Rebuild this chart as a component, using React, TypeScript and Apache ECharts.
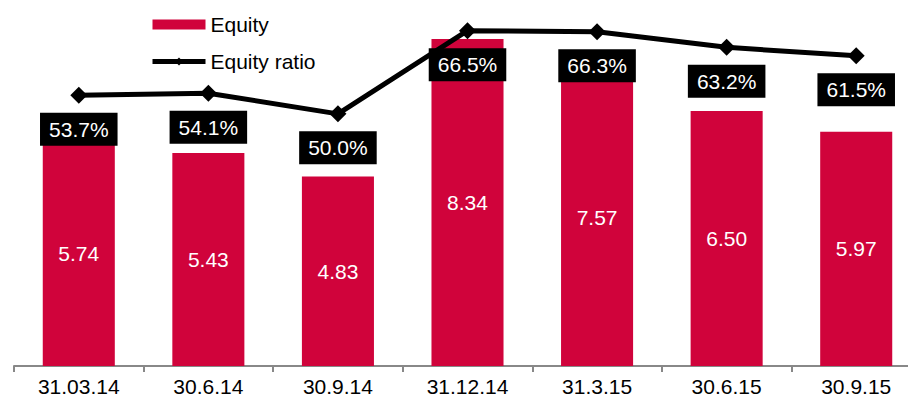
import React, { useEffect, useRef } from "react";
import * as echarts from "echarts";

const categories = ["31.03.14", "30.6.14", "30.9.14", "31.12.14", "31.3.15", "30.6.15", "30.9.15"];
const equity = [5.74, 5.43, 4.83, 8.34, 7.57, 6.5, 5.97];
const equityRatio = [53.7, 54.1, 50.0, 66.5, 66.3, 63.2, 61.5];

const FONT = "'Liberation Sans', Arial, sans-serif";

export default function App() {
  const ref = useRef<HTMLDivElement>(null);
  useEffect(() => {
    if (!ref.current) return;
    const chart = echarts.init(ref.current, undefined, { renderer: "svg" });
    chart.setOption({
      animation: false,
      textStyle: { fontFamily: FONT },
      legend: {
        orient: "vertical",
        left: 150,
        top: 14,
        padding: 0,
        itemWidth: 53,
        itemHeight: 10,
        itemGap: 16,
        textStyle: { fontSize: 21, color: "#000", fontFamily: FONT },
        data: [
          { name: "Equity", icon: "rect" },
          { name: "Equity ratio", lineStyle: { width: 5, color: "#000" } },
        ],
      },
      grid: { left: 14, right: 0, top: 13, bottom: 35, containLabel: false },
      xAxis: {
        type: "category",
        data: categories,
        boundaryGap: true,
        axisLine: { lineStyle: { color: "#888", width: 2 } },
        axisTick: { show: true, interval: 0, length: 6, lineStyle: { color: "#888", width: 2 } },
        axisLabel: { fontSize: 21, color: "#000", margin: 10, interval: 0, fontFamily: FONT },
      },
      yAxis: [
        { type: "value", min: 0, max: 9, show: false, splitLine: { show: false } },
        { type: "value", min: 0, max: 70, show: false, splitLine: { show: false } },
      ],
      series: [
        {
          name: "Equity",
          type: "bar",
          data: equity,
          yAxisIndex: 0,
          barWidth: "55.6%",
          itemStyle: { color: "#D0033B" },
          label: {
            show: true,
            position: "inside",
            color: "#fff",
            fontSize: 21,
            fontFamily: FONT,
            formatter: (p: any) => p.value.toFixed(2),
          },
          z: 2,
        },
        {
          name: "Equity ratio",
          type: "line",
          data: equityRatio,
          yAxisIndex: 1,
          symbol: "diamond",
          symbolSize: 17,
          lineStyle: { color: "#000", width: 5 },
          itemStyle: { color: "#000" },
          label: {
            show: true,
            position: "bottom",
            distance: 9,
            color: "#fff",
            fontSize: 21,
            fontFamily: FONT,
            backgroundColor: "#000",
            padding: [6, 9, 6, 9],
            formatter: (p: any) => p.value.toFixed(1) + "%",
          },
          z: 5,
        },
      ],
    });
    return () => chart.dispose();
  }, []);
  return (
    <div style={{ position: "fixed", left: 0, top: 0, width: 908, height: 401, overflow: "hidden", background: "#fff" }}>
      <div ref={ref} style={{ width: 921, height: 401 }} />
    </div>
  );
}
